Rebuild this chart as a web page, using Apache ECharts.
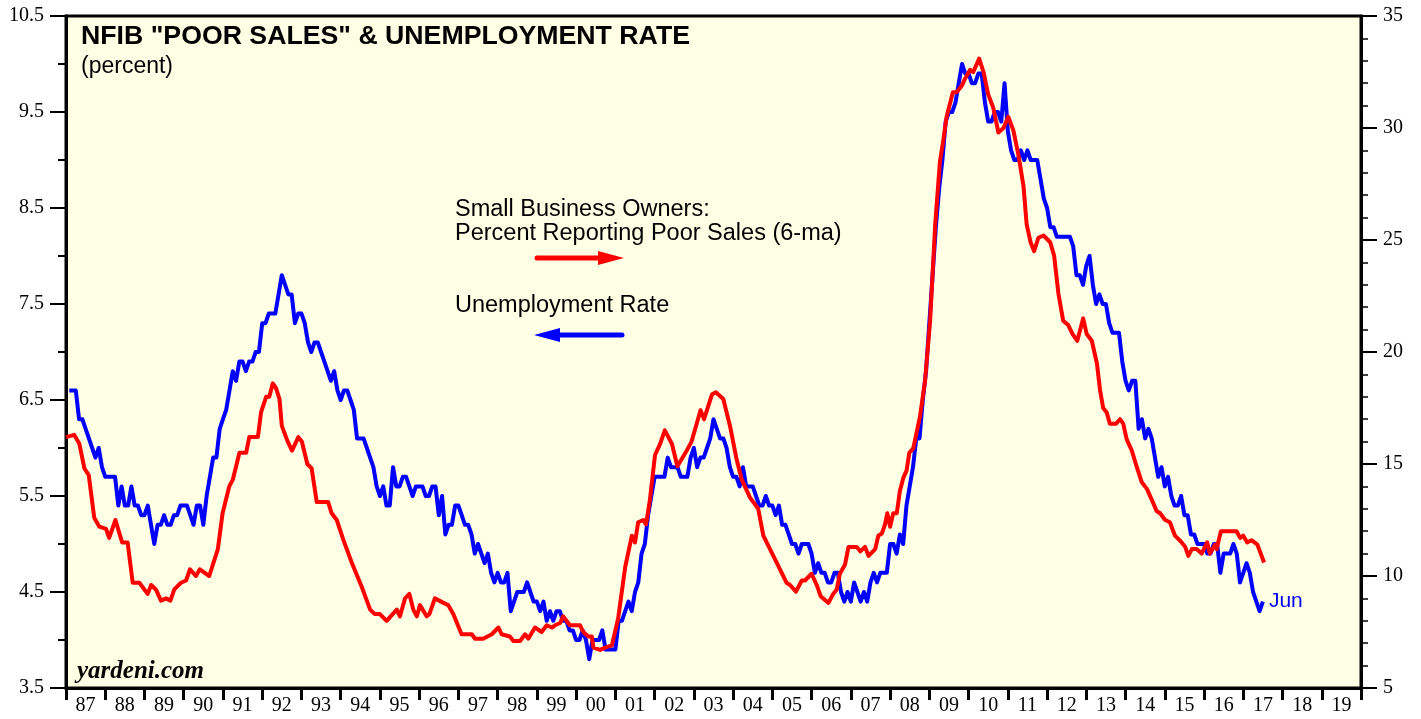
<!DOCTYPE html>
<html>
<head>
<meta charset="utf-8">
<script src="https://cdn.jsdelivr.net/npm/echarts@6/dist/echarts.min.js"></script>
<style>
html,body{margin:0;padding:0;background:#ffffff;}
#chart{width:1421px;height:719px;}
</style>
</head>
<body>
<div id="chart"></div>
<script>
// ---- DATA ----
const yearLabels = ['87','88','89','90','91','92','93','94','95','96','97','98','99','00','01','02','03','04','05','06','07','08','09','10','11','12','13','14','15','16','17','18','19'];
const firstYear = 1987;
const lastYear = 2020;

// Unemployment rate, monthly, Jan 1987 - Jun 2017 (left axis, percent)
const unemployment = [
  6.6,6.6,6.6,6.3,6.3,6.2,6.1,6.0,5.9,6.0,5.8,5.7,
  5.7,5.7,5.7,5.4,5.6,5.4,5.4,5.6,5.4,5.4,5.3,5.3,
  5.4,5.2,5.0,5.2,5.2,5.3,5.2,5.2,5.3,5.3,5.4,5.4,
  5.4,5.3,5.2,5.4,5.4,5.2,5.5,5.7,5.9,5.9,6.2,6.3,
  6.4,6.6,6.8,6.7,6.9,6.9,6.8,6.9,6.9,7.0,7.0,7.3,
  7.3,7.4,7.4,7.4,7.6,7.8,7.7,7.6,7.6,7.3,7.4,7.4,
  7.3,7.1,7.0,7.1,7.1,7.0,6.9,6.8,6.7,6.8,6.6,6.5,
  6.6,6.6,6.5,6.4,6.1,6.1,6.1,6.0,5.9,5.8,5.6,5.5,
  5.6,5.4,5.4,5.8,5.6,5.6,5.7,5.7,5.6,5.5,5.6,5.6,
  5.6,5.5,5.5,5.6,5.6,5.3,5.5,5.1,5.2,5.2,5.4,5.4,
  5.3,5.2,5.2,5.1,4.9,5.0,4.9,4.8,4.9,4.7,4.6,4.7,
  4.6,4.6,4.7,4.3,4.4,4.5,4.5,4.5,4.6,4.5,4.4,4.4,
  4.3,4.4,4.2,4.3,4.2,4.3,4.3,4.2,4.2,4.1,4.1,4.0,
  4.0,4.1,4.0,3.8,4.0,4.0,4.0,4.1,3.9,3.9,3.9,3.9,
  4.2,4.2,4.3,4.4,4.3,4.5,4.6,4.9,5.0,5.3,5.5,5.7,
  5.7,5.7,5.7,5.9,5.8,5.8,5.8,5.7,5.7,5.7,5.9,6.0,
  5.8,5.9,5.9,6.0,6.1,6.3,6.2,6.1,6.1,6.0,5.8,5.7,
  5.7,5.6,5.8,5.6,5.6,5.6,5.5,5.4,5.4,5.5,5.4,5.4,
  5.3,5.4,5.2,5.2,5.1,5.0,5.0,4.9,5.0,5.0,5.0,4.9,
  4.7,4.8,4.7,4.7,4.6,4.6,4.7,4.7,4.5,4.4,4.5,4.4,
  4.6,4.5,4.4,4.5,4.4,4.6,4.7,4.6,4.7,4.7,4.7,5.0,
  5.0,4.9,5.1,5.0,5.4,5.6,5.8,6.1,6.1,6.5,6.8,7.3,
  7.8,8.3,8.7,9.0,9.4,9.5,9.5,9.6,9.8,10.0,9.9,9.9,
  9.8,9.8,9.9,9.9,9.6,9.4,9.4,9.5,9.5,9.4,9.8,9.3,
  9.1,9.0,9.0,9.1,9.0,9.1,9.0,9.0,9.0,8.8,8.6,8.5,
  8.3,8.3,8.2,8.2,8.2,8.2,8.2,8.1,7.8,7.8,7.7,7.9,
  8.0,7.7,7.5,7.6,7.5,7.5,7.3,7.2,7.2,7.2,6.9,6.7,
  6.6,6.7,6.7,6.2,6.3,6.1,6.2,6.1,5.9,5.7,5.8,5.6,
  5.7,5.5,5.4,5.4,5.5,5.3,5.3,5.1,5.1,5.0,5.0,5.0,
  4.9,4.9,5.0,5.0,4.7,4.9,4.9,4.9,5.0,4.9,4.6,4.7,
  4.8,4.7,4.5,4.4,4.3,4.4
];
const unemploymentLastLabel = 'Jun';

// NFIB percent reporting poor sales (6-ma), right axis: dates (decimal years) and values
const poorSalesDates = [
  1987.00,1987.21,1987.34,1987.47,1987.58,1987.72,1987.85,1988.02,1988.10,1988.26,1988.43,1988.57,1988.70,1988.87,
  1989.08,1989.17,1989.29,1989.42,1989.55,1989.66,1989.76,1989.93,1990.06,1990.16,1990.31,1990.41,1990.65,1990.87,1990.99,
  1991.16,1991.25,1991.42,1991.59,1991.67,1991.89,1991.97,1992.10,1992.18,1992.27,1992.35,1992.44,1992.50,1992.65,1992.76,
  1992.92,1993.01,1993.15,1993.26,1993.39,1993.68,1993.77,1993.90,1994.07,1994.28,1994.54,1994.75,1994.87,1995.00,
  1995.17,1995.43,1995.51,1995.64,1995.75,1995.85,1995.94,1996.02,1996.19,1996.26,1996.40,1996.62,1996.74,1996.87,
  1997.08,1997.34,1997.42,1997.63,1997.85,1998.02,1998.10,1998.31,1998.40,1998.57,1998.70,1998.78,1998.95,1999.12,
  1999.25,1999.38,1999.46,1999.59,1999.67,1999.84,2000.10,2000.18,2000.31,2000.40,2000.44,2000.61,2000.74,2000.91,
  2001.07,2001.25,2001.42,2001.50,2001.58,2001.71,2001.78,2001.88,2002.01,2002.14,2002.26,2002.44,2002.58,2002.82,
  2002.94,2003.17,2003.26,2003.46,2003.56,2003.75,2003.92,2004.09,2004.22,2004.43,2004.64,2004.77,2004.94,2005.11,
  2005.36,2005.45,2005.60,2005.75,2005.83,2006.00,2006.13,2006.23,2006.43,2006.55,2006.64,2006.72,2006.85,2006.94,
  2007.15,2007.24,2007.36,2007.45,2007.62,2007.70,2007.79,2007.87,2007.93,2008.00,2008.08,2008.17,2008.25,2008.34,
  2008.42,2008.49,2008.59,2008.76,2008.89,2009.02,2009.15,2009.27,2009.36,2009.44,2009.60,2009.70,2009.83,2009.91,
  2010.04,2010.12,2010.27,2010.38,2010.50,2010.63,2010.76,2010.89,2011.01,2011.14,2011.27,2011.40,2011.48,2011.58,
  2011.67,2011.78,2011.91,2012.08,2012.18,2012.29,2012.41,2012.54,2012.65,2012.77,2012.92,2013.01,2013.14,2013.27,
  2013.35,2013.43,2013.52,2013.60,2013.76,2013.86,2013.94,2014.03,2014.16,2014.28,2014.41,2014.54,2014.67,2014.79,
  2014.88,2015.01,2015.13,2015.26,2015.43,2015.52,2015.60,2015.69,2015.81,2015.94,2016.08,2016.15,2016.28,2016.32,
  2016.43,2016.62,2016.83,2016.92,2017.00,2017.10,2017.21,2017.36,2017.53
];
const poorSalesValues = [
  16.2,16.3,15.9,14.8,14.5,12.6,12.2,12.1,11.7,12.5,11.5,11.5,9.7,9.7,
  9.2,9.6,9.4,8.9,9.0,8.9,9.4,9.7,9.8,10.3,10.0,10.3,10.0,11.2,12.8,
  14.0,14.3,15.5,15.5,16.2,16.2,17.3,18.0,18.0,18.6,18.4,17.9,16.7,16.0,15.6,
  16.2,16.0,15.0,14.8,13.3,13.3,12.8,12.5,11.6,10.6,9.5,8.5,8.3,8.3,
  8.0,8.5,8.2,9.0,9.2,8.5,8.2,8.7,8.2,8.3,9.0,8.8,8.7,8.3,
  7.4,7.4,7.2,7.2,7.4,7.7,7.4,7.3,7.1,7.1,7.4,7.2,7.7,7.5,
  7.8,7.7,7.8,7.9,8.2,7.8,7.8,7.5,7.3,7.3,6.8,6.7,6.8,6.9,
  8.1,10.4,11.8,11.5,12.4,12.5,12.3,13.4,15.4,15.9,16.5,15.9,14.9,15.6,
  16.0,17.4,17.0,18.1,18.2,17.9,16.7,15.2,14.3,13.5,13.0,11.8,11.2,10.6,
  9.7,9.6,9.3,9.8,9.8,10.1,9.6,9.1,8.8,9.2,9.4,10.1,10.5,11.3,
  11.3,11.1,11.3,10.9,11.2,11.8,11.9,12.3,12.8,12.2,12.8,12.8,13.8,14.4,
  14.7,15.5,15.7,17.1,18.7,21.4,25.7,28.5,29.5,30.5,31.6,31.6,31.9,32.2,
  32.6,32.5,33.1,32.5,31.5,30.9,29.8,30.0,30.5,29.9,28.8,27.4,25.7,24.9,
  24.5,25.1,25.2,24.9,24.3,22.6,21.4,21.2,20.8,20.5,21.5,20.8,20.5,19.5,
  18.3,17.5,17.3,16.8,16.8,17.0,16.8,16.1,15.6,14.9,14.2,13.9,13.4,12.9,
  12.8,12.5,12.4,11.8,11.5,11.3,10.9,11.2,11.2,11.0,11.5,11.0,11.4,11.2,
  12.0,12.0,12.0,11.7,11.8,11.5,11.6,11.4,10.6
];

// Axis tick labels
const leftTickLabels = ['3.5','4.5','5.5','6.5','7.5','8.5','9.5','10.5'];
const rightTickLabels = ['5','10','15','20','25','30','35'];

// Text
const titleText = 'NFIB "POOR SALES" & UNEMPLOYMENT RATE';
const subtitleText = '(percent)';
const salesLegend1 = 'Small Business Owners:';
const salesLegend2 = 'Percent Reporting Poor Sales (6-ma)';
const unempLegend = 'Unemployment Rate';
const sourceText = 'yardeni.com';

// ---- CHART ----
const unempSeries = unemployment.map((v, i) => [firstYear + (i + 1) / 12, v]);
const salesSeries = poorSalesDates.map((d, i) => [d, poorSalesValues[i]]);

const chart = echarts.init(document.getElementById('chart'), null, {renderer: 'canvas'});
const serif = 'Liberation Serif';
const sans = 'Liberation Sans';

const option = {
  animation: false,
  backgroundColor: '#ffffff',
  grid: {
    left: 66, right: 60, top: 16, bottom: 31,
    show: true, backgroundColor: '#FFFFE5', borderColor: '#000000', borderWidth: 3
  },
  xAxis: [
    { type: 'value', min: firstYear, max: lastYear, show: false },
    {
      type: 'category', data: yearLabels, boundaryGap: true, position: 'bottom',
      axisLine: { show: true, lineStyle: { color: '#000', width: 3 } },
      axisTick: { show: true, interval: 0, length: 12, lineStyle: { color: '#000', width: 3 } },
      axisLabel: { interval: 0, color: '#000', fontFamily: serif, fontSize: 20, margin: 8 },
      splitLine: { show: false }
    }
  ],
  yAxis: [
    {
      type: 'value', position: 'left', min: 3.5, max: 10.5, interval: 0.5,
      axisLine: { show: true, lineStyle: { color: '#000', width: 3 } },
      axisTick: { show: true, length: 8, lineStyle: { color: '#000', width: 2 } },
      axisLabel: {
        color: '#000', fontFamily: serif, fontSize: 20, margin: 22,
        formatter: v => { const s = v.toFixed(1); return leftTickLabels.indexOf(s) >= 0 ? s : ''; }
      },
      splitLine: { show: false }
    },
    {
      type: 'value', position: 'right', min: 5, max: 35, interval: 5,
      axisLine: { show: true, lineStyle: { color: '#000', width: 3 } },
      axisTick: { show: true, length: 16, lineStyle: { color: '#000', width: 2 } },
      minorTick: { show: true, splitNumber: 5, length: 7, lineStyle: { color: '#000', width: 1.5 } },
      axisLabel: {
        color: '#000', fontFamily: serif, fontSize: 20, margin: 22,
        formatter: v => { const s = String(v); return rightTickLabels.indexOf(s) >= 0 ? s : ''; }
      },
      splitLine: { show: false }
    },
    {
      // long ticks at the labelled left-axis values (3.5, 4.5, ...)
      type: 'value', position: 'left', min: 0, max: 7, interval: 1,
      axisLine: { show: false },
      axisTick: { show: true, length: 16, lineStyle: { color: '#000', width: 2 } },
      axisLabel: { show: false },
      splitLine: { show: false }
    }
  ],
  series: [
    {
      name: 'Unemployment Rate', type: 'line', xAxisIndex: 0, yAxisIndex: 0,
      data: unempSeries, showSymbol: false, symbol: 'none',
      lineStyle: { color: '#0000FF', width: 4, join: 'round' },
      endLabel: { show: true, formatter: unemploymentLastLabel, color: '#0000FF', fontFamily: sans, fontSize: 21, distance: 6 },
      z: 3
    },
    {
      name: 'Poor Sales', type: 'line', xAxisIndex: 0, yAxisIndex: 1,
      data: salesSeries, showSymbol: false, symbol: 'none',
      lineStyle: { color: '#FF0000', width: 4, join: 'round' },
      z: 4
    }
  ],
  graphic: [
    { type: 'text', left: 81, top: 23, z: 10,
      style: { text: titleText, fill: '#000', font: 'bold 26.7px "Liberation Sans"' } },
    { type: 'text', left: 81, top: 55, z: 10,
      style: { text: subtitleText, fill: '#000', font: '23px "Liberation Sans"' } },
    { type: 'text', left: 455, top: 198, z: 10,
      style: { text: salesLegend1, fill: '#000', font: '23.5px "Liberation Sans"' } },
    { type: 'text', left: 455, top: 222, z: 10,
      style: { text: salesLegend2, fill: '#000', font: '23.5px "Liberation Sans"' } },
    { type: 'line', z: 10, shape: { x1: 537, y1: 258, x2: 604, y2: 258 },
      style: { stroke: '#FF0000', lineWidth: 5, lineCap: 'round' } },
    { type: 'polygon', z: 10, shape: { points: [[598, 251], [624, 258], [598, 265]] },
      style: { fill: '#FF0000' } },
    { type: 'text', left: 455, top: 294, z: 10,
      style: { text: unempLegend, fill: '#000', font: '23.5px "Liberation Sans"' } },
    { type: 'line', z: 10, shape: { x1: 556, y1: 335, x2: 622, y2: 335 },
      style: { stroke: '#0000FF', lineWidth: 5, lineCap: 'round' } },
    { type: 'polygon', z: 10, shape: { points: [[560, 328], [534, 335], [560, 342]] },
      style: { fill: '#0000FF' } },
    { type: 'text', left: 77, top: 659, z: 10,
      style: { text: sourceText, fill: '#000', font: 'italic bold 25px "Liberation Serif"' } }
  ]
};
chart.setOption(option);
</script>
</body>
</html>
